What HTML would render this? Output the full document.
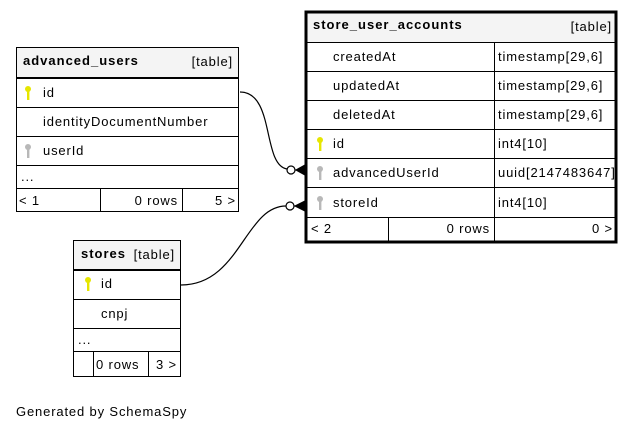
<!DOCTYPE html>
<html><head><meta charset="utf-8"><style>
html,body{margin:0;padding:0;background:#fff;}
svg{display:block;font-family:"Liberation Sans",sans-serif;}
text{font-size:13px;fill:#000;letter-spacing:0.85px;}
.b{font-weight:bold;letter-spacing:1px;}
</style></head><body>
<svg width="637" height="432" viewBox="0 0 637 432" xmlns="http://www.w3.org/2000/svg">
<defs>
<g id="ky"><circle cx="0" cy="-4" r="3" fill="#e6e600"/><rect x="-1" y="-2" width="2.4" height="9" fill="#e6e600"/></g>
<g id="kg"><circle cx="0" cy="-4" r="3" fill="#b8b8b8"/><rect x="-1" y="-2" width="2.4" height="9" fill="#b8b8b8"/></g>
</defs>

<!-- advanced_users -->
<g stroke="#000" stroke-width="1" fill="none">
<rect x="16.5" y="47.5" width="222" height="30" fill="#f4f4f4"/>
<rect x="16.5" y="47.5" width="222" height="164"/>
<line x1="16" y1="78.5" x2="239" y2="78.5"/>
<line x1="16" y1="107.5" x2="239" y2="107.5"/>
<line x1="16" y1="136.5" x2="239" y2="136.5"/>
<line x1="16" y1="165.5" x2="239" y2="165.5"/>
<line x1="16" y1="188.5" x2="239" y2="188.5"/>
<line x1="100.5" y1="188" x2="100.5" y2="212"/>
<line x1="182.5" y1="188" x2="182.5" y2="212"/>
</g>
<text x="23" y="65" class="b">advanced_users</text>
<text x="233" y="66" text-anchor="end">[table]</text>
<use href="#ky" x="28" y="93"/><text x="43" y="97">id</text>
<text x="43" y="126">identityDocumentNumber</text>
<use href="#kg" x="28" y="151"/><text x="43" y="155">userId</text>
<text x="21" y="181">...</text>
<text x="19" y="205">&lt; 1</text>
<text x="178" y="205" text-anchor="end">0 rows</text>
<text x="236" y="205" text-anchor="end">5 &gt;</text>

<!-- store_user_accounts -->
<g stroke="#000" stroke-width="1" fill="none">
<rect x="306" y="12" width="310" height="30" fill="#f4f4f4" stroke="none"/>
<line x1="305" y1="42.5" x2="617" y2="42.5"/>
<line x1="305" y1="71.5" x2="617" y2="71.5"/>
<line x1="305" y1="100.5" x2="617" y2="100.5"/>
<line x1="305" y1="129.5" x2="617" y2="129.5"/>
<line x1="305" y1="158.5" x2="617" y2="158.5"/>
<line x1="305" y1="187.5" x2="617" y2="187.5"/>
<line x1="305" y1="217.5" x2="617" y2="217.5"/>
<line x1="494.5" y1="42" x2="494.5" y2="243"/>
<line x1="388.5" y1="217" x2="388.5" y2="243"/>
<rect x="306" y="12" width="310" height="230" stroke-width="3"/>
</g>
<text x="313" y="29" class="b">store_user_accounts</text>
<text x="612" y="31" text-anchor="end">[table]</text>
<text x="333" y="61">createdAt</text><text x="498" y="61">timestamp[29,6]</text>
<text x="333" y="90">updatedAt</text><text x="498" y="90">timestamp[29,6]</text>
<text x="333" y="119">deletedAt</text><text x="498" y="119">timestamp[29,6]</text>
<use href="#ky" x="320" y="144"/><text x="333" y="148">id</text><text x="498" y="148">int4[10]</text>
<use href="#kg" x="320" y="173"/><text x="333" y="177">advancedUserId</text><text x="498" y="177" letter-spacing="0.3">uuid[2147483647]</text>
<use href="#kg" x="320" y="203"/><text x="333" y="207">storeId</text><text x="498" y="207">int4[10]</text>
<text x="311" y="233">&lt; 2</text>
<text x="490" y="233" text-anchor="end">0 rows</text>
<text x="613" y="233" text-anchor="end">0 &gt;</text>

<!-- stores -->
<g stroke="#000" stroke-width="1" fill="none">
<rect x="73.5" y="240.5" width="107" height="29" fill="#f4f4f4"/>
<rect x="73.5" y="240.5" width="107" height="136"/>
<line x1="73" y1="270.5" x2="181" y2="270.5"/>
<line x1="73" y1="299.5" x2="181" y2="299.5"/>
<line x1="73" y1="328.5" x2="181" y2="328.5"/>
<line x1="73" y1="351.5" x2="181" y2="351.5"/>
<line x1="93.5" y1="351" x2="93.5" y2="377"/>
<line x1="148.5" y1="351" x2="148.5" y2="377"/>
</g>
<text x="81" y="258" class="b">stores</text>
<text x="175" y="259" text-anchor="end" letter-spacing="0.3">[table]</text>
<use href="#ky" x="88" y="284"/><text x="101" y="288">id</text>
<text x="101" y="318">cnpj</text>
<text x="78" y="344">...</text>
<text x="96" y="369" letter-spacing="0.5">0 rows</text>
<text x="177" y="369" text-anchor="end">3 &gt;</text>

<!-- connectors -->
<g stroke="#000" stroke-width="1.2" fill="none">
<path d="M240 92 C275 92, 262 165, 287 169"/>
<circle cx="291" cy="170" r="4" fill="#fff"/>
<path d="M295 170 L305 170 M296 170 L305 165 M296 170 L305 175"/>
<path d="M181 285 C240 285, 245 206, 286 206"/>
<circle cx="290" cy="206" r="4" fill="#fff"/>
<path d="M294 206 L305 206 M295 206 L305 201 M295 206 L305 211"/>
</g>
<polygon points="296,170 305,165 305,175" fill="#000"/>
<polygon points="295,206 305,201 305,211" fill="#000"/>

<text x="16" y="416">Generated by SchemaSpy</text>
</svg>
</body></html>
